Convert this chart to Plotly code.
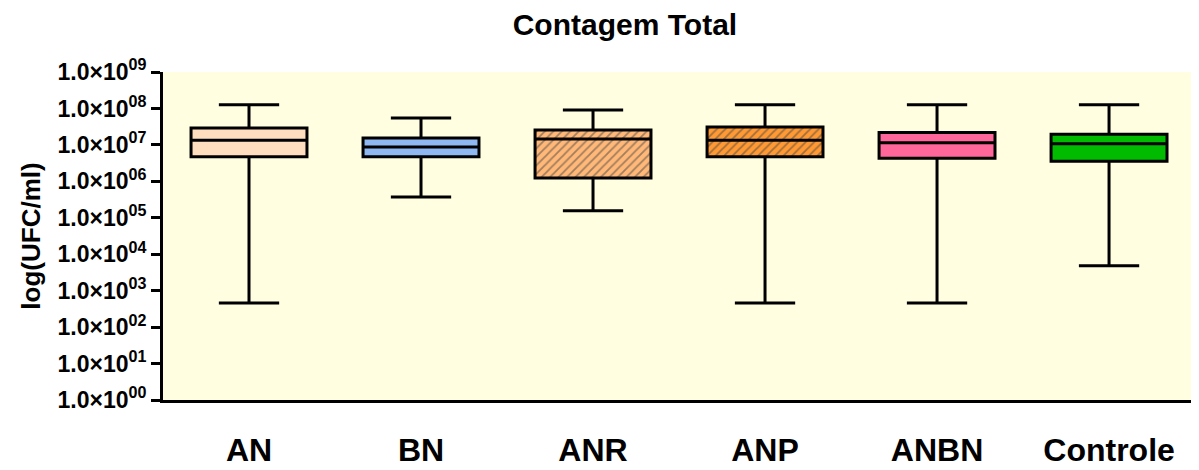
import plotly.graph_objects as go

categories = ["AN", "BN", "ANR", "ANP", "ANBN", "Controle"]
lower_whisker = [460, 3.7e5, 1.55e5, 460, 460, 4.8e3]
q1 = [4.7e6, 4.7e6, 1.23e6, 4.7e6, 4.3e6, 3.55e6]
median = [1.35e7, 8.7e6, 1.45e7, 1.35e7, 1.15e7, 1.07e7]
q3 = [2.9e7, 1.55e7, 2.57e7, 3.1e7, 2.2e7, 1.95e7]
upper_whisker = [1.26e8, 5.5e7, 9.1e7, 1.26e8, 1.26e8, 1.26e8]
fill_colors = ["#FFDEC0", "#8FB8F2", "rgba(0,0,0,0)", "rgba(0,0,0,0)", "#FF6699", "#00BB00"]
hatched = ["ANR", "ANP"]
hatch_colors = ["#FFB878", "#FF9933"]

y_tickvals = [10 ** k for k in range(10)]
y_ticktext = ["1.0×10<sup>%02d</sup>" % k for k in range(10)]

fig = go.Figure()

# patterned fills for hatched groups
idx = [categories.index(c) for c in hatched]
fig.add_trace(go.Bar(
    x=hatched,
    base=[q1[i] for i in idx],
    y=[q3[i] - q1[i] for i in idx],
    width=0.674,
    marker=dict(color=hatch_colors, line=dict(width=0),
                pattern=dict(shape="/", fgcolor="white", size=6, solidity=0.3)),
    showlegend=False, hoverinfo="skip",
))

for i, c in enumerate(categories):
    fig.add_trace(go.Box(
        x=[c], q1=[q1[i]], median=[median[i]], q3=[q3[i]],
        lowerfence=[lower_whisker[i]], upperfence=[upper_whisker[i]],
        fillcolor=fill_colors[i], line=dict(color="black", width=3),
        width=0.674, whiskerwidth=0.52, boxpoints=False, showlegend=False,
    ))

fig.update_layout(
    width=1191, height=462,
    margin=dict(l=155, r=0, t=64, b=70),
    paper_bgcolor="white", plot_bgcolor="#FFFEE0",
    title=dict(text="<b>Contagem Total</b>", x=0.518, xanchor="center", y=0.965, yanchor="middle",
               font=dict(family="Liberation Sans, Arial", size=30, color="black")),
    font=dict(family="Liberation Sans, Arial", color="black"),
    barmode="overlay",
)
fig.update_xaxes(
    type="category", categoryorder="array", categoryarray=categories, range=[-0.5, 5.523],
    showline=True, linecolor="black", linewidth=3, ticks="", showgrid=False,
    tickfont=dict(size=32, family="Liberation Sans, Arial", weight="bold"),
    ticklabelstandoff=20,
)
fig.update_yaxes(
    type="log", range=[0, 9],
    tickvals=y_tickvals, ticktext=y_ticktext,
    showline=True, linecolor="black", linewidth=3, ticks="outside", ticklen=9, tickwidth=3,
    tickcolor="black", showgrid=False, zeroline=False,
    tickfont=dict(size=23, family="Liberation Sans, Arial", weight="bold"),
    title=dict(text="<b>log(UFC/ml)</b>", font=dict(size=26), standoff=10),
)

fig.write_html("out.html")
